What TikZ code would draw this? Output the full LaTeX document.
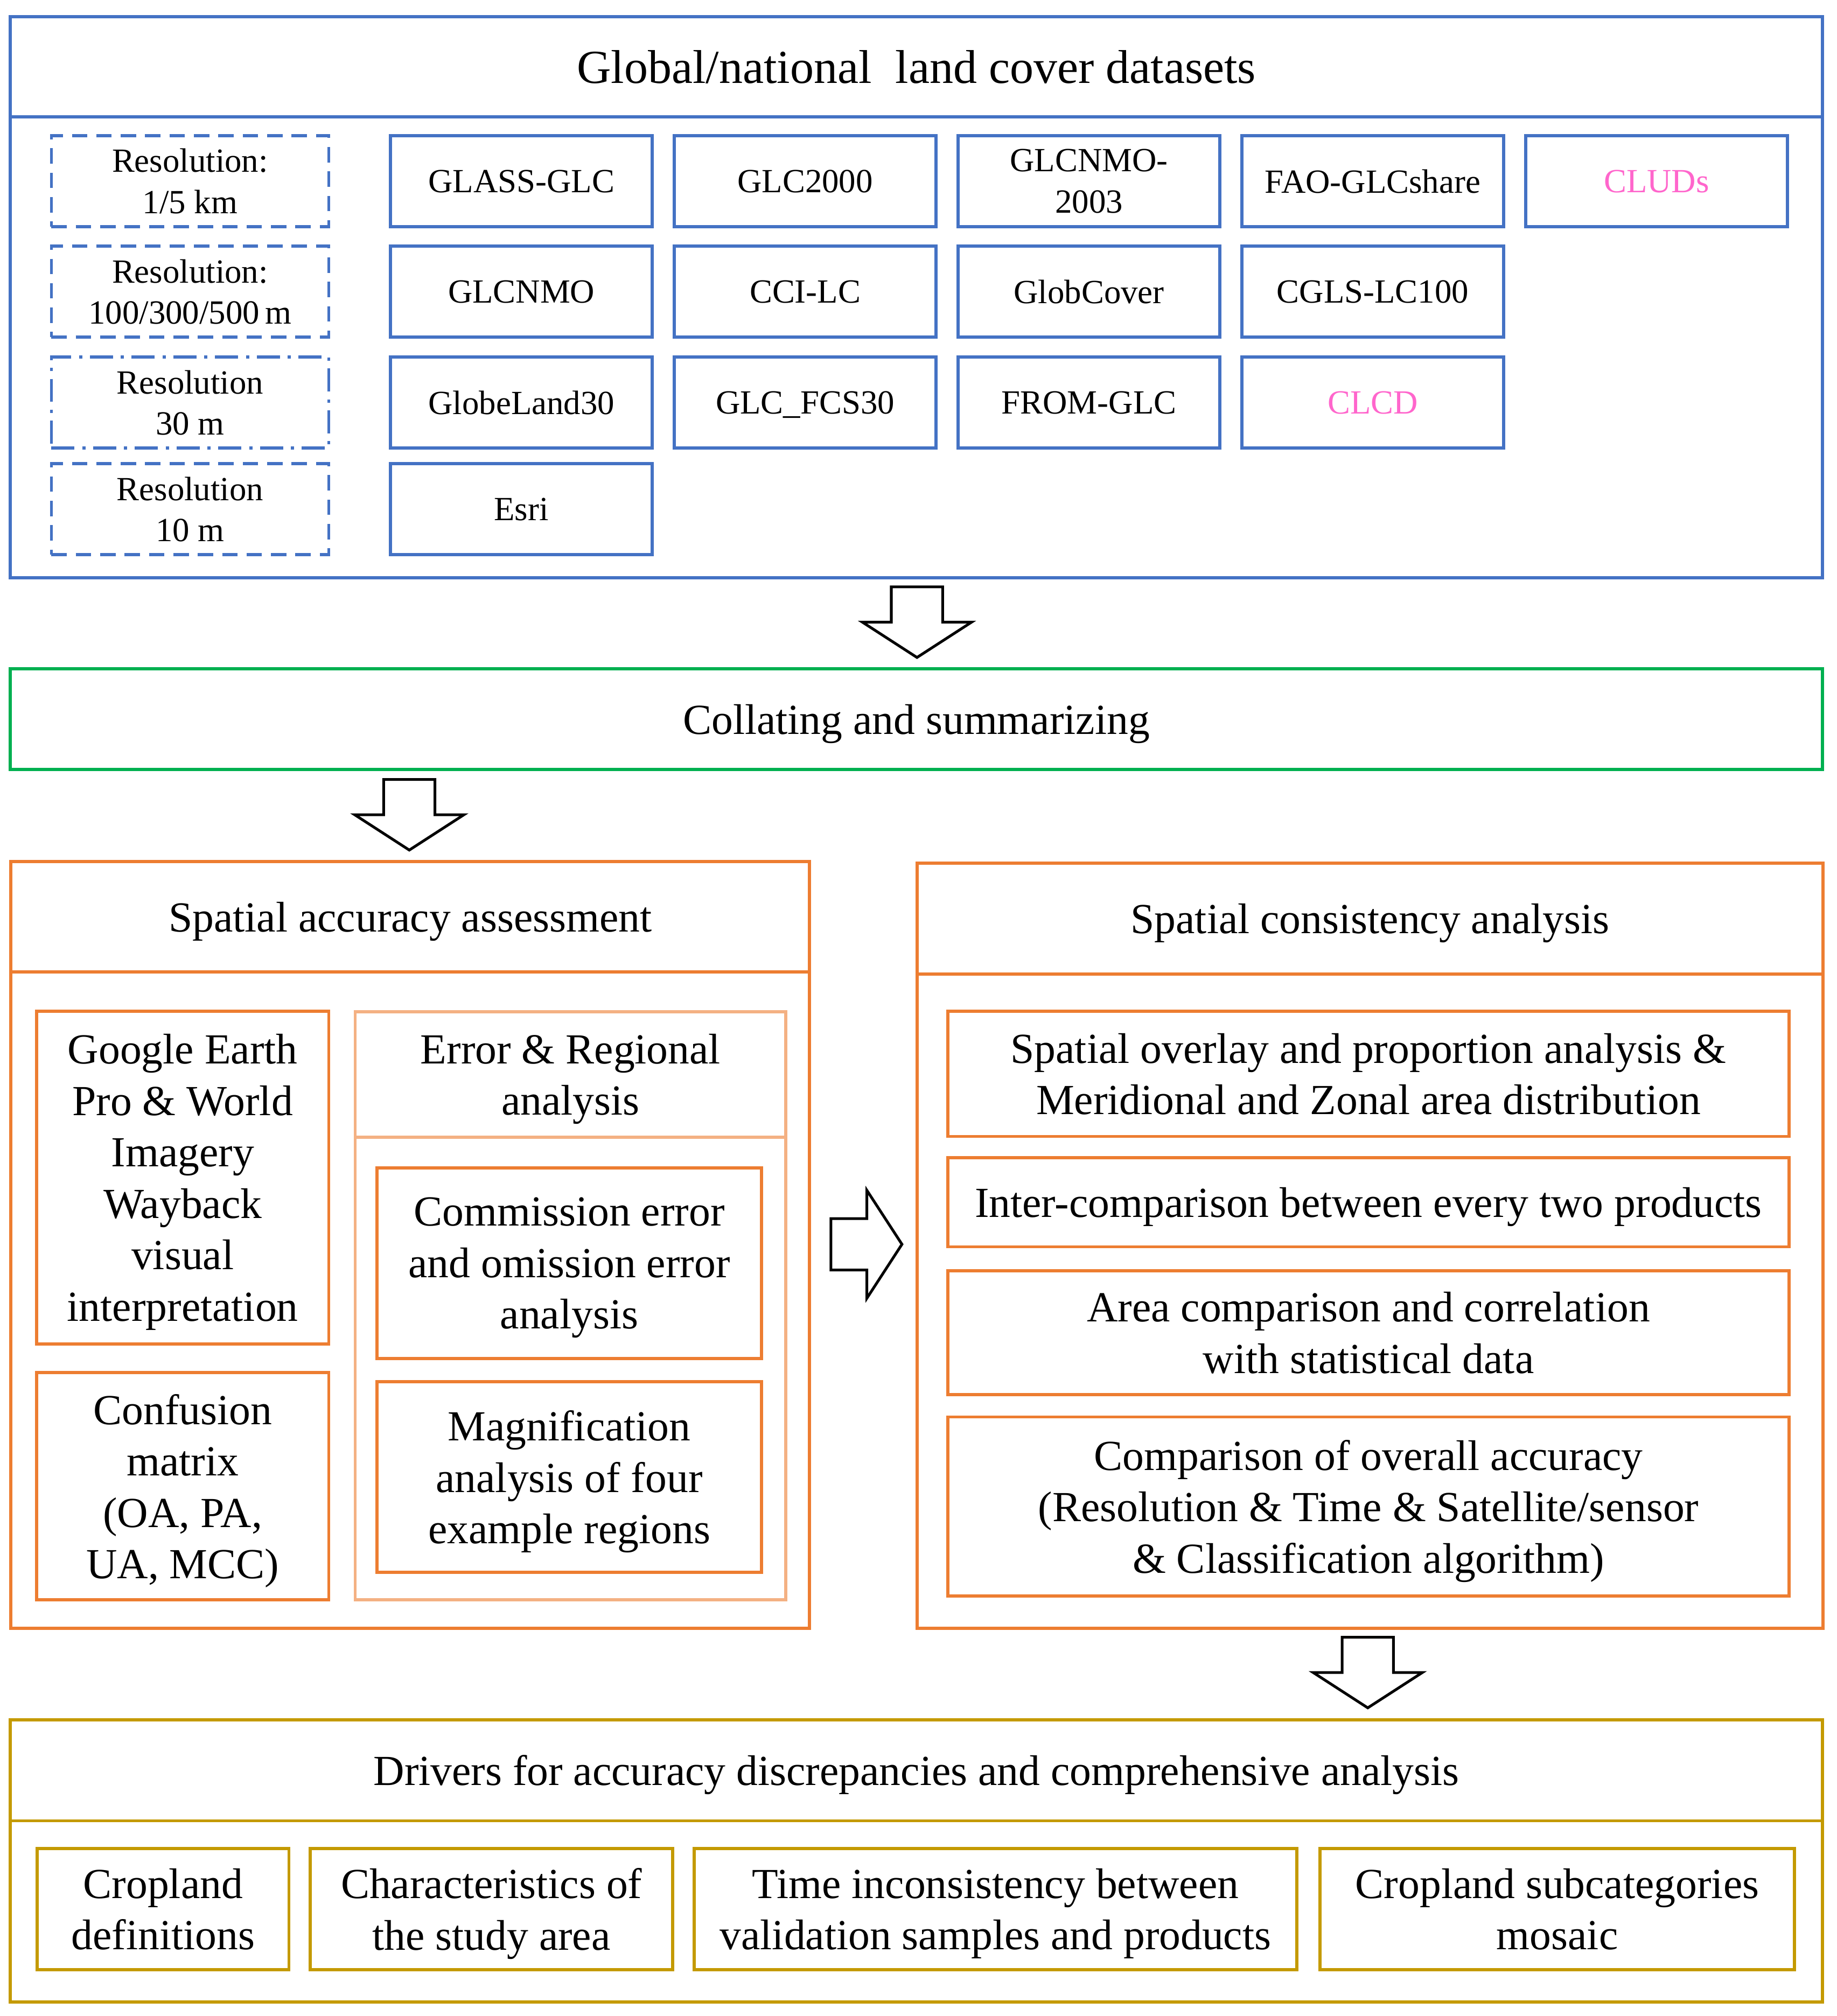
\documentclass[tikz,border=0pt]{standalone}
\usepackage{fontspec}
\setmainfont{Liberation Serif}
\usetikzlibrary{positioning}

\definecolor{dsblue}{HTML}{4472C4}
\definecolor{clgreen}{HTML}{00B050}
\definecolor{anorange}{HTML}{ED7D31}
\definecolor{lightorange}{HTML}{F4B183}
\definecolor{drvgold}{HTML}{C49A00}
\definecolor{cnpink}{HTML}{FF66CC}

\begin{document}
\begin{tikzpicture}[x=0.02cm, y=-0.02cm, node distance = 0pt,
BoxStyle/.style={draw, line width=1.4pt, outer sep=0pt, inner sep=0pt,
                align=center, text depth=0pt},
BigFont/.style={font=\fontsize{19}{22.8}\selectfont},
DsStyle/.style={BoxStyle, draw=dsblue, minimum width=4.08cm,
                minimum height=1.42cm, font=\fontsize{15}{18.2}\selectfont},
ResStyle/.style={DsStyle, minimum width=4.32cm,
                dash pattern=on 0.24cm off 0.14cm},
InStyle/.style={BoxStyle, draw=anorange, BigFont},
DrvStyle/.style={BoxStyle, draw=drvgold, BigFont, minimum height=1.89cm},
HollowArrow/.style={draw=black, fill=white, line width=1.2pt},]
\useasboundingbox (0,0) rectangle (1430,1570);

% land cover datasets
\node [BoxStyle, draw=dsblue, minimum width=28.22cm, minimum height=8.74cm]
      (dsframe) at (713.5,231.5) {};
\node [BoxStyle, draw=dsblue, minimum width=28.22cm, minimum height=1.56cm,
       font=\fontsize{21}{25}\selectfont] (dstitle) at (713.5,52)
      {Global/national~ land cover datasets};
\node [ResStyle] (res1) at (148,141) {Resolution:\\1/5 km};
\node [ResStyle] (res2) at (148,227) {Resolution:\\100/300/500\,m};
\node [ResStyle, dash pattern=on 0.36cm off 0.12cm on 0.05cm off 0.12cm]
      (res3) at (148,313.5) {Resolution\\30 m};
\node [ResStyle] (res4) at (148,396.5) {Resolution\\10 m};
\node [DsStyle] (glass) at (406,141) {GLASS-GLC};
\node [DsStyle, right=0.34cm of glass] (glc2000) {GLC2000};
\node [DsStyle, right=0.34cm of glc2000] (glcnmo03) {GLCNMO-\\2003};
\node [DsStyle, right=0.34cm of glcnmo03] (fao) {FAO-GLCshare};
\node [DsStyle, right=0.34cm of fao, text=cnpink] (cluds) {CLUDs};
\node [DsStyle] (glcnmo) at (406,227) {GLCNMO};
\node [DsStyle, right=0.34cm of glcnmo] (ccilc) {CCI-LC};
\node [DsStyle, right=0.34cm of ccilc] (globcover) {GlobCover};
\node [DsStyle, right=0.34cm of globcover] (cgls) {CGLS-LC100};
\node [DsStyle] (globeland) at (406,313.5) {GlobeLand30};
\node [DsStyle, right=0.34cm of globeland] (fcs30) {GLC\_FCS30};
\node [DsStyle, right=0.34cm of fcs30] (fromglc) {FROM-GLC};
\node [DsStyle, right=0.34cm of fromglc, text=cnpink] (clcd) {CLCD};
\node [DsStyle] (esri) at (406,396.5) {Esri};

% collating
\node [BoxStyle, draw=clgreen, minimum width=28.22cm, minimum height=1.57cm,
       BigFont] (collate) at (713.5,560) {Collating and summarizing};

% spatial accuracy assessment
\node [BoxStyle, draw=anorange, minimum width=12.44cm, minimum height=11.94cm]
      (accframe) at (319.5,969.5) {};
\node [InStyle, minimum width=12.44cm, minimum height=1.72cm]
      (acctitle) at (319.5,714) {Spatial accuracy assessment};
\node [InStyle, minimum width=4.55cm, minimum height=5.18cm] (gee)
      at (142.25,917)
      {Google Earth\\Pro \& World\\Imagery\\Wayback\\visual\\interpretation};
\node [InStyle, minimum width=4.55cm, minimum height=3.54cm] (confmat)
      at (142.25,1157.5) {Confusion\\matrix\\(OA, PA,\\UA, MCC)};
\node [BoxStyle, draw=lightorange, minimum width=6.71cm, minimum height=9.16cm]
      (errframe) at (444.25,1017) {};
\node [BoxStyle, draw=lightorange, minimum width=6.71cm, minimum height=1.95cm,
       BigFont] (errtitle) at (444.25,836.75) {Error \& Regional\\analysis};
\node [InStyle, minimum width=5.99cm, minimum height=2.97cm] (comom)
      at (443.25,983.75) {Commission error\\and omission error\\analysis};
\node [InStyle, minimum width=5.99cm, minimum height=2.97cm,
       below=0.36cm of comom] (magn)
      {Magnification\\analysis of four\\example regions};

% spatial consistency analysis
\node [BoxStyle, draw=anorange, minimum width=14.11cm, minimum height=11.92cm]
      (consframe) at (1066.75,970) {};
\node [InStyle, minimum width=14.11cm, minimum height=1.73cm]
      (constitle) at (1066.75,715.25) {Spatial consistency analysis};
\node [InStyle, minimum width=13.1cm, minimum height=1.95cm] (overlay)
      at (1065.5,836.25) {Spatial overlay and proportion analysis \&\\
                          Meridional and Zonal area distribution};
\node [InStyle, minimum width=13.1cm, minimum height=1.39cm,
       below=0.33cm of overlay] (intercomp)
      {Inter-comparison between every two products};
\node [InStyle, minimum width=13.1cm, minimum height=1.93cm,
       below=0.37cm of intercomp] (areacomp)
      {Area comparison and correlation\\with statistical data};
\node [InStyle, minimum width=13.1cm, minimum height=2.79cm,
       below=0.35cm of areacomp] (oacomp)
      {Comparison of overall accuracy\\(Resolution \& Time \& Satellite/sensor\\
       \& Classification algorithm)};

% drivers
\node [BoxStyle, draw=drvgold, minimum width=28.22cm, minimum height=4.39cm]
      (drvframe) at (713.5,1449.25) {};
\node [BoxStyle, draw=drvgold, minimum width=28.22cm, minimum height=1.57cm,
       BigFont] (drvtitle) at (713.5,1378.75)
      {Drivers for accuracy discrepancies and comprehensive analysis};
\node [DrvStyle, minimum width=3.92cm] (cropdef) at (127,1486.75)
      {Cropland\\definitions};
\node [DrvStyle, minimum width=5.65cm, right=0.33cm of cropdef] (studyarea)
      {Characteristics of\\the study area};
\node [DrvStyle, minimum width=9.39cm, right=0.33cm of studyarea] (timeinc)
      {Time inconsistency between\\validation samples and products};
\node [DrvStyle, minimum width=7.39cm, right=0.36cm of timeinc] (subcat)
      {Cropland subcategories\\mosaic};

% hollow arrows
\foreach \cx/\ty in {714/457, 318.7/607, 1065/1275}
  \draw [HollowArrow] (\cx-20,\ty) -- (\cx+20,\ty) -- (\cx+20,\ty+27.5)
        -- (\cx+42.5,\ty+27.5) -- (\cx,\ty+55) -- (\cx-42.5,\ty+27.5)
        -- (\cx-20,\ty+27.5) -- cycle;
\draw [HollowArrow] (647,949) -- (675,949) -- (675,927) -- (702.3,969)
      -- (675,1011) -- (675,989) -- (647,989) -- cycle;
\end{tikzpicture}
\end{document}
